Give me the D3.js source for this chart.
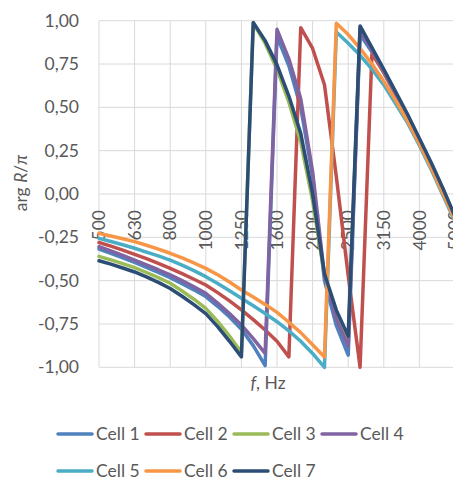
<!DOCTYPE html>
<html><head><meta charset="utf-8">
<script src="https://cdn.jsdelivr.net/npm/d3@7"></script>
<style>
body{margin:0;background:#fff;}
svg text{font-family:Lato,"Open Sans",sans-serif;fill:#595959;}
</style></head>
<body>
<svg id="chart" width="453" height="480"></svg>
<script>
const categories = [500,540,580,630,680,740,800,860,930,1000,1080,1160,1250,1350,1450,1600,1720,1850,2000,2160,2320,2500,2700,2920,3150,3400,3700,4000,4300,4650,5000];
const tickLabels = [500,630,800,1000,1250,1600,2000,2500,3150,4000,5000];
const yTicks = [-1,-0.75,-0.5,-0.25,0,0.25,0.5,0.75,1];
const seriesNames = ["Cell 1","Cell 2","Cell 3","Cell 4","Cell 5","Cell 6","Cell 7"];
const seriesColors = ["#4F81BD","#C0504D","#9BBB59","#8064A2","#4BACC6","#F79646","#2C4D75"];
const cell1 = [-0.318,-0.342,-0.368,-0.395,-0.423,-0.452,-0.483,-0.517,-0.553,-0.592,-0.648,-0.71,-0.78,-0.875,-0.99,
  0.91,0.74,0.50,0.10,-0.50,-0.76,-0.93,
  0.92,0.82,0.70,0.575,0.445,0.31,0.165,0.02,-0.135];
const cell2 = [-0.28,-0.301,-0.324,-0.348,-0.373,-0.40,-0.429,-0.46,-0.492,-0.525,-0.569,-0.617,-0.669,-0.725,-0.785,-0.85,-0.94,
  0.96,0.84,0.63,0.10,-0.47,-1.0,
  0.81,0.70,0.575,0.445,0.31,0.165,0.02,-0.14];
const cell3 = [-0.36,-0.38,-0.402,-0.425,-0.453,-0.483,-0.515,-0.56,-0.607,-0.66,-0.735,-0.82,-0.915,
  0.985,0.87,0.72,0.53,0.30,-0.04,-0.47,-0.69,-0.84,
  0.96,0.835,0.71,0.585,0.455,0.315,0.175,0.025,-0.13];
const cell4 = [-0.304,-0.328,-0.354,-0.381,-0.409,-0.437,-0.467,-0.50,-0.535,-0.573,-0.63,-0.69,-0.756,-0.835,-0.92,
  0.95,0.78,0.55,0.13,-0.47,-0.72,-0.88,
  0.94,0.83,0.71,0.58,0.45,0.31,0.17,0.02,-0.13];
const cell5 = [-0.256,-0.274,-0.293,-0.313,-0.335,-0.357,-0.381,-0.41,-0.442,-0.477,-0.516,-0.558,-0.602,-0.645,-0.69,-0.737,-0.79,-0.85,-0.92,-1.0,
  0.935,0.87,0.80,0.72,0.63,0.52,0.41,0.28,0.14,-0.01,-0.16];
const cell6 = [-0.227,-0.242,-0.258,-0.275,-0.296,-0.318,-0.342,-0.369,-0.398,-0.429,-0.466,-0.508,-0.554,-0.595,-0.637,-0.683,-0.74,-0.80,-0.87,-0.94,
  0.985,0.92,0.84,0.75,0.65,0.54,0.42,0.29,0.15,0.0,-0.15];
const cell7 = [-0.385,-0.405,-0.427,-0.45,-0.478,-0.51,-0.545,-0.59,-0.638,-0.69,-0.765,-0.85,-0.94,
  0.99,0.885,0.745,0.565,0.35,0.0,-0.46,-0.67,-0.82,
  0.97,0.845,0.72,0.59,0.46,0.32,0.18,0.03,-0.13];
const seriesValues = [cell1,cell2,cell3,cell4,cell5,cell6,cell7];

const svg = d3.select("#chart");
const x = d3.scalePoint().domain(categories).range([99,455]);
const y = d3.scaleLinear().domain([-1,1]).range([367.3,20.7]);
const fmt = v => d3.format(".2f")(v).replace(".",",").replace("−","-");

// gridlines
const g = svg.append("g");
g.selectAll("line.h").data(yTicks).join("line")
  .attr("x1",99).attr("x2",455).attr("y1",d=>y(d)).attr("y2",d=>y(d))
  .attr("stroke","#D9D9D9").attr("stroke-width",1);
g.selectAll("line.v").data(tickLabels).join("line")
  .attr("x1",d=>x(d)).attr("x2",d=>x(d)).attr("y1",y(1)).attr("y2",y(-1))
  .attr("stroke","#D9D9D9").attr("stroke-width",1);

// y labels
svg.append("g").selectAll("text").data(yTicks).join("text")
  .attr("x",79).attr("y",d=>y(d)).attr("dy","0.35em")
  .attr("text-anchor","end").attr("font-size","17.5px").text(fmt);

// x labels (rotated, hanging below y=0)
svg.append("g").selectAll("text").data(tickLabels).join("text")
  .attr("transform",d=>`translate(${x(d)},${y(0)+16}) rotate(-90)`)
  .attr("dy","0.35em").attr("text-anchor","end").attr("font-size","17.5px").text(d=>d);

// lines
const line = d3.line().x((d,i)=>x(categories[i])).y(d=>y(d));
svg.append("g").selectAll("path").data(seriesValues).join("path")
  .attr("d",d=>line(d)).attr("fill","none")
  .attr("stroke",(d,i)=>seriesColors[i]).attr("stroke-width",3.5)
  .attr("stroke-linejoin","round").attr("stroke-linecap","round");

// axis titles
const xt = svg.append("text").attr("x",268).attr("y",389).attr("text-anchor","middle").attr("font-size","17.5px");
xt.append("tspan").attr("font-style","italic").text("f");
xt.append("tspan").text(", Hz");
const yt = svg.append("text").attr("transform","translate(27,183) rotate(-90)").attr("text-anchor","middle").attr("font-size","17.5px");
yt.append("tspan").text("arg ");
yt.append("tspan").attr("font-style","italic").text("R");
yt.append("tspan").text("/");
yt.append("tspan").attr("font-style","italic").text("π");

// legend
const leg = svg.append("g").selectAll("g").data(seriesNames).join("g")
  .attr("transform",(d,i)=>`translate(${58 + (i%4)*88},${i<4?434:471})`);
leg.append("line").attr("x1",0).attr("x2",34).attr("y1",0).attr("y2",0)
  .attr("stroke",(d,i)=>seriesColors[i]).attr("stroke-width",3.5).attr("stroke-linecap","round");
leg.append("text").attr("x",38).attr("dy","0.35em").attr("font-size","17.5px").text(d=>d);
</script>
</body></html>
